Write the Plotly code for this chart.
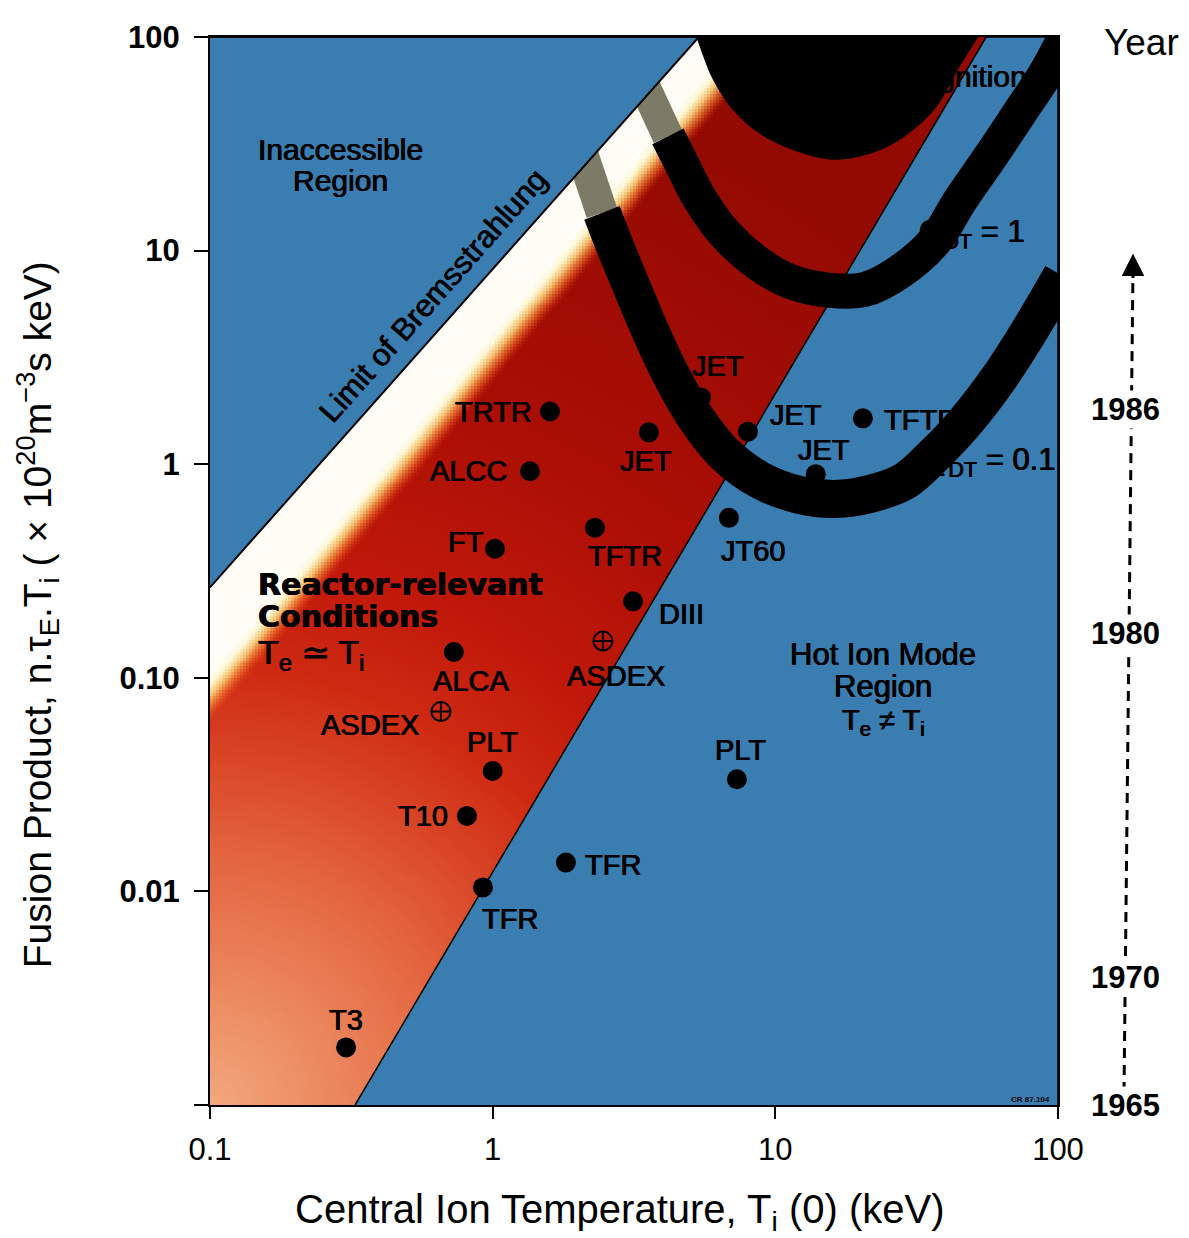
import numpy as np
import plotly.graph_objects as go

# ---------------- data ----------------
# tokamak results (filled dots)
machines = ["T3", "TFR", "TFR", "T10", "PLT", "PLT", "ALCA", "DIII", "FT", "TFTR",
            "JT60", "ALCC", "JET", "TRTR", "JET", "JET", "JET", "TFTR"]
Ti_keV = [0.303, 0.924, 1.816, 0.811, 1.0, 7.31, 0.729, 3.137, 1.019, 2.30,
          6.85, 1.355, 3.57, 1.595, 5.46, 8.0, 13.9, 20.4]
fusion_product = [0.00186, 0.01044, 0.01364, 0.02256, 0.0366, 0.0335, 0.132, 0.228, 0.402, 0.504,
                  0.561, 0.927, 1.41, 1.764, 2.05, 1.42, 0.898, 1.64]

# ASDEX results (circled-cross symbols)
asdex_Ti = [0.656, 2.455]
asdex_fp = [0.0695, 0.1486]

# limit of bremsstrahlung
brems_Ti = [0.1, 5.36]
brems_fp = [0.265, 100.0]

# Te = Ti / hot-ion boundary
hot_Ti = [0.326, 55.7]
hot_fp = [0.001, 100.0]

# Q_DT = 0.1 curve
q01_Ti = [2.086, 2.244, 2.435, 2.729, 3.109, 3.600, 4.236, 5.193, 6.631, 8.818,
          12.21, 16.24, 21.60, 28.72, 36.67, 46.81, 62.27, 79.48, 103.2]
q01_fp = [27.67, 20.06, 15.02, 10.22, 6.73, 4.245, 2.679, 1.672, 1.113, 0.8425,
          0.7176, 0.6875, 0.7254, 0.8335, 1.113, 1.568, 2.567, 4.245, 7.65]

# Q_DT = 1 curve
q1_Ti = [3.456, 3.750, 4.168, 4.710, 5.409, 6.631, 8.604, 11.26, 15.59, 20.74,
         27.57, 36.67, 44.96, 57.41, 73.28, 89.8, 108.3]
q1_fp = [58.55, 44.80, 34.26, 24.86, 17.46, 12.00, 8.794, 7.175, 6.516, 6.585,
         7.97, 11.12, 17.10, 27.30, 44.32, 66.62, 105.5]

# ignition region boundary
ign_Ti = [5.279, 5.589, 6.014, 7.078, 8.818, 11.72, 15.97, 21.60, 27.57, 36.67, 44.23, 52.04]
ign_fp = [100.0, 80.72, 63.78, 45.77, 35.38, 29.50, 26.79, 28.56, 33.19, 46.26, 71.0, 100.0]

# year scale on the right
years = ["1965", "1970", "1980", "1986"]
year_fp = [0.001, 0.00394, 0.162, 1.80]

# axis ticks
x_ticks = [0.1, 1, 10, 100]
x_tick_text = ["0.1", "1", "10", "100"]
y_ticks = [0.001, 0.01, 0.1, 1, 10, 100]
y_tick_text = ["", "0.01", "0.10", "1", "10", "100"]

# ---------------- styling ----------------
FONT = "Liberation Sans, Arial, Helvetica, sans-serif"
BLUE = "#3a7db0"
BODY = 8                      # page body margin of the html page
W, H = 1189 - BODY, 1238 - BODY
ML, MR, MT, MB = 210 - BODY, 131, 30 - BODY, 133
PW, PH = W - ML - MR, H - MT - MB
HEAVY = "0.5px 0 0 #000, -0.4px 0 0 #000"

# label offsets (pixels from marker centre) for each machine label
label_offsets = [(0, -27), (27, 32), (47, 2), (-44, 0), (0, -29), (4, -29), (17, 29), (48, 13),
                 (-29, -7), (30, 28), (24, 33), (-61, 0), (-3, 29), (-56, 0), (17, -32),
                 (48, -17), (8, -24), (58, 2)]
asdex_offsets = [(-71, 13), (13, 35)]

# ---------------- decorative shading of the Te=Ti band ----------------
nu, nv = 283, 358
u_e = np.linspace(-1, 2, nu + 1)
v_e = np.linspace(-3, 2, nv + 1)
uc = 0.5 * (u_e[:-1] + u_e[1:])
vc = 0.5 * (v_e[:-1] + v_e[1:])
U, V = np.meshgrid(uc, vc)
X = (U + 1) / 3 * PW
Y = (2 - V) / 5 * PH
R = np.hypot(X, PH - Y)
z_base = np.round(np.clip(R / 1100.0, 0, 1), 3)

bu = np.log10(brems_Ti); bv = np.log10(brems_fp)
x0, y0 = (bu[0] + 1) / 3 * PW, (2 - bv[0]) / 5 * PH
x1, y1 = (bu[1] + 1) / 3 * PW, (2 - bv[1]) / 5 * PH
L = np.hypot(x1 - x0, y1 - y0)
tx, ty = (x1 - x0) / L, (y1 - y0) / L
nx, ny = -ty, tx
d = (X - x0) * nx + (Y - y0) * ny
s = (X - x0) * tx + (Y - y0) * ty
wband = 56 - 26 * s / L
zo = np.clip((d - wband) / 32.0, 0, None)
zo = np.where((zo > 1) | (d < -6), np.nan, zo)
zo = np.round(zo, 3)

base_scale = [
    [0.0, "rgb(242,168,125)"], [0.15, "rgb(233,124,84)"], [0.23, "rgb(227,100,62)"],
    [0.31, "rgb(218,72,40)"], [0.40, "rgb(206,42,18)"], [0.50, "rgb(192,24,10)"],
    [0.68, "rgb(170,14,5)"], [1.0, "rgb(146,10,2)"]]
band_scale = [
    [0.0, "rgba(255,253,246,1)"], [0.22, "rgba(255,246,210,1)"], [0.45, "rgba(250,200,115,0.95)"],
    [0.72, "rgba(236,112,42,0.65)"], [1.0, "rgba(215,45,15,0)"]]

fig = go.Figure()
fig.add_trace(go.Heatmap(x=10 ** u_e, y=10 ** v_e, z=z_base, colorscale=base_scale, zmin=0, zmax=1,
                         showscale=False, hoverinfo="skip", zsmooth=False))
fig.add_trace(go.Heatmap(x=10 ** u_e, y=10 ** v_e, z=zo, colorscale=band_scale, zmin=0, zmax=1,
                         showscale=False, hoverinfo="skip", zsmooth=False))

# hot-ion-mode region
fig.add_trace(go.Scatter(x=hot_Ti + [100, 100], y=hot_fp + [100, 0.001], mode="lines",
                         fill="toself", fillcolor=BLUE, line=dict(color="black", width=1.5),
                         hoverinfo="skip", showlegend=False))

# Q curves (grey where they cross the white band)
GREY = "#7c7b68"
fig.add_trace(go.Scatter(x=q01_Ti[:3], y=q01_fp[:3], mode="lines", line=dict(color=GREY, width=32),
                         hoverinfo="skip", showlegend=False))
fig.add_trace(go.Scatter(x=q01_Ti[2:], y=q01_fp[2:], mode="lines",
                         line=dict(color="black", width=38, shape="spline"),
                         hoverinfo="skip", showlegend=False))
fig.add_trace(go.Scatter(x=q1_Ti[:3], y=q1_fp[:3], mode="lines", line=dict(color=GREY, width=31),
                         hoverinfo="skip", showlegend=False))
fig.add_trace(go.Scatter(x=q1_Ti[2:], y=q1_fp[2:], mode="lines",
                         line=dict(color="black", width=35, shape="spline"),
                         hoverinfo="skip", showlegend=False))
# ignition region
fig.add_trace(go.Scatter(x=ign_Ti, y=ign_fp, mode="lines", fill="toself", fillcolor="black",
                         line=dict(color="black", width=1, shape="spline"),
                         hoverinfo="skip", showlegend=False))
# inaccessible region
fig.add_trace(go.Scatter(x=brems_Ti + [0.1], y=brems_fp + [100], mode="lines", fill="toself",
                         fillcolor=BLUE, line=dict(color="black", width=2),
                         hoverinfo="skip", showlegend=False))

# machine points
fig.add_trace(go.Scatter(x=Ti_keV, y=fusion_product, mode="markers",
                         marker=dict(color="black", size=20), showlegend=False))
fig.add_trace(go.Scatter(x=asdex_Ti, y=asdex_fp, mode="markers",
                         marker=dict(symbol="circle-cross-open", color="black", size=19,
                                     line=dict(width=2, color="black")), showlegend=False))

ann = []
LBL = dict(family=FONT, size=29, color="black", shadow=HEAVY)
for name, xv, yv, (dx, dy) in zip(machines, Ti_keV, fusion_product, label_offsets):
    ann.append(dict(x=np.log10(xv), y=np.log10(yv), xref="x", yref="y", text=name,
                    showarrow=False, xshift=dx, yshift=-dy, font=LBL,
                    xanchor="center", yanchor="middle"))
for xv, yv, (dx, dy) in zip(asdex_Ti, asdex_fp, asdex_offsets):
    ann.append(dict(x=np.log10(xv), y=np.log10(yv), xref="x", yref="y", text="ASDEX",
                    showarrow=False, xshift=dx, yshift=-dy, font=LBL,
                    xanchor="center", yanchor="middle"))


def px(xp):
    # page pixel -> paper fraction
    return (xp - BODY - ML) / PW


def py(yp):
    return (H - MB - (yp - BODY)) / PH


def txt(text, xp, yp, size=29, xanchor="center", angle=0, weight="normal", family=FONT,
        shadow=HEAVY, **kw):
    d = dict(x=px(xp), y=py(yp), xref="paper", yref="paper", text=text, showarrow=False,
             xanchor=xanchor, yanchor="middle", textangle=angle,
             font=dict(family=family, size=size, color="black", weight=weight, shadow=shadow))
    d.update(kw)
    ann.append(d)


txt("Inaccessible", 340, 143, 30)
txt("Region", 340, 174, 30)
txt("Limit of Bremsstrahlung", 433, 290, 31, angle=-48.5)
txt("Reactor-relevant", 256, 581, 30, xanchor="left", weight="bold", family="DejaVu Sans")
txt("Conditions", 256, 613, 30, xanchor="left", weight="bold", family="DejaVu Sans")
txt("T<sub>e</sub> ≃ T<sub>i</sub>", 256, 652, 34, xanchor="left")
txt("Hot Ion Mode", 883, 652, 31)
txt("Region", 883, 684, 31)
txt("T<sub>e</sub> ≠ T<sub>i</sub>", 883, 719, 29)
txt("Ignition", 1029, 70, 30, xanchor="right")
txt("Q<sub>DT</sub> = 1", 1027, 228, 31, xanchor="right")
txt("Q<sub>DT</sub> = 0.1", 1057, 458, 31, xanchor="right")
txt("CR 87.104", 1052, 1099, 8, xanchor="right", weight="bold", shadow="none")

# axis titles
txt("Central Ion Temperature, T<sub>i</sub> (0) (keV)", 619, 1213, 40, shadow="none")
txt("Fusion Product, n.τ<sub>E</sub>.T<sub>i</sub> ( × 10<sup>20</sup>m<sup>−3</sup>s keV)",
    38, 612, 39, angle=-90, shadow="none")

# year scale
txt("Year", 1141, 36, 37, shadow="none")
for yr, fp in zip(years, year_fp):
    ann.append(dict(x=px(1125), y=np.log10(fp), xref="paper", yref="y", text=yr, showarrow=False,
                    xanchor="center", yanchor="middle", bgcolor="white",
                    font=dict(family=FONT, size=31, color="black", weight="bold")))
ann.append(dict(x=px(1133), y=py(248), xref="paper", yref="paper", text="", showarrow=True,
                ax=0, ay=26, arrowhead=2, arrowsize=1.5, arrowwidth=3, arrowcolor="black"))

fig.update_layout(
    width=W, height=H, margin=dict(l=ML, r=MR, t=MT, b=MB),
    paper_bgcolor="white", plot_bgcolor="white", showlegend=False,
    annotations=ann,
    shapes=[dict(type="line", xref="paper", yref="paper", x0=px(1124), y0=py(1092),
                 x1=px(1133), y1=py(262), line=dict(color="black", width=3, dash="10px,7px"),
                 layer="below")],
    xaxis=dict(type="log", range=[-1, 2], tickvals=x_ticks, ticktext=x_tick_text,
               ticks="outside", ticklen=12, tickwidth=2, tickcolor="black",
               showline=True, linewidth=2, linecolor="black", mirror=True,
               showgrid=False, zeroline=False, ticklabelstandoff=4,
               tickfont=dict(family=FONT, size=31, color="black")),
    yaxis=dict(type="log", range=[-3, 2], tickvals=y_ticks, ticktext=y_tick_text,
               ticks="outside", ticklen=14, tickwidth=2, tickcolor="black",
               showline=True, linewidth=2, linecolor="black", mirror=True,
               showgrid=False, zeroline=False, ticklabelstandoff=8,
               tickfont=dict(family=FONT, size=31, color="black", weight="bold")),
)

fig.write_html("out.html")
